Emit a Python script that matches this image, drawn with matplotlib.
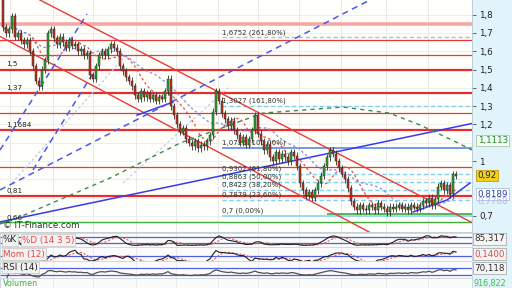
import numpy as np
import pandas as pd
import matplotlib
matplotlib.use('Agg')
import matplotlib.pyplot as plt
import matplotlib.transforms as mtrans

#=======================================================================================
# Data
#=======================================================================================

first_open = 1.88
closes = [1.73, 1.70, 1.72, 1.79, 1.68, 1.70, 1.66, 1.64, 1.66, 1.60,
          1.52, 1.44, 1.41, 1.50, 1.55, 1.70, 1.72, 1.67, 1.64, 1.68,
          1.65, 1.62, 1.66, 1.63, 1.64, 1.60, 1.61, 1.58, 1.59, 1.47,
          1.45, 1.52, 1.58, 1.60, 1.58, 1.61, 1.64, 1.62, 1.60, 1.52,
          1.49, 1.46, 1.44, 1.41, 1.36, 1.34, 1.38, 1.35, 1.37, 1.34,
          1.36, 1.33, 1.35, 1.34, 1.38, 1.45, 1.30, 1.25, 1.20, 1.16,
          1.18, 1.12, 1.10, 1.08, 1.11, 1.07, 1.09, 1.08, 1.11, 1.14,
          1.27, 1.38, 1.33, 1.26, 1.23, 1.19, 1.22, 1.17, 1.14, 1.10,
          1.13, 1.09, 1.12, 1.17, 1.25, 1.15, 1.11, 1.06, 1.09, 1.02,
          1.00, 1.05, 1.01, 1.04, 1.02, 1.00, 1.05, 1.03, 0.97, 0.88,
          0.84, 0.81, 0.83, 0.80, 0.84, 0.88, 0.92, 0.97, 1.02, 1.06,
          1.04, 1.00, 0.96, 0.93, 0.90, 0.85, 0.78, 0.75, 0.73, 0.76,
          0.74, 0.73, 0.76, 0.75, 0.73, 0.77, 0.75, 0.74, 0.72, 0.75,
          0.74, 0.75, 0.76, 0.74, 0.75, 0.73, 0.76, 0.75, 0.74, 0.76,
          0.78, 0.77, 0.80, 0.76, 0.79, 0.86, 0.88, 0.84, 0.87, 0.82,
          0.93, 0.92]

# horizontal levels
thick_red = [1.5, 1.37, 1.1684, 0.81]
thick_red_labels = ['1,5', '1,37', '1,1684', '0,81']
thin_red = [1.661, 1.578, 1.261, 0.966]
pink_level = 1.749
green_level = 0.667
green_short = 0.709

fib_levels = [1.6752, 1.3027, 1.0725, 0.9302, 0.8863, 0.8423, 0.7879, 0.7]
fib_pcts = ['261,80%', '161,80%', '100,00%', '61,80%', '50,00%', '38,20%', '23,60%', '0,00%']
fib_start = 73.0

# trend lines (bar index, price)
red_lines = [((12.3, 1.880), (156.3, 0.664)),
             ((-1.0, 1.681), (125.7, 0.580))]
blue_solid = [((-1.0, 0.667), (156.3, 1.205)),
              ((44.7, 1.251), (56.7, 1.322))]
blue_dashed = [((-1.0, 0.842), (122.3, 1.880)),
               ((-1.0, 1.060), (28.0, 1.803)),
               ((10.0, 0.951), (31.3, 1.514))]
lav_dotted = [((3.0, 0.880), (40.0, 1.560)),
              ((40.0, 0.880), (75.0, 1.400))]
end_blue_x = [136.7, 148.0, 155.7]
end_blue_y = [0.721, 0.787, 0.880]

green_curve_x = [-1.0, 3.3, 35.7, 59.0, 86.7, 113.3, 128.7, 139.0, 151.0, 156.3]
green_curve_y = [0.656, 0.678, 0.907, 1.098, 1.262, 1.295, 1.262, 1.197, 1.104, 1.060]

grid_idx = [2.3, 16.7, 30.0, 44.3, 57.7, 71.7, 85.0, 98.7, 112.7, 127.7, 141.7]

right_ticks = [0.7, 1.0, 1.2, 1.3, 1.4, 1.5, 1.6, 1.7, 1.8]

#=======================================================================================
# Derived series
#=======================================================================================

s = pd.Series(closes)
opens = [first_open] + closes[:-1]
idx = np.arange(len(closes))

lo = s.rolling(14, min_periods=1).min()
hi = s.rolling(14, min_periods=1).max()
k = (100 * (s - lo) / (hi - lo).replace(0, np.nan)).fillna(50).rolling(3, min_periods=1).mean()
d = k.rolling(5, min_periods=1).mean()
mom = (s - s.shift(12))
mom_sig = mom.rolling(5, min_periods=1).mean()
delta = s.diff()
gain = delta.clip(lower=0).ewm(alpha=1/14).mean()
loss = (-delta.clip(upper=0)).ewm(alpha=1/14).mean()
rsi = 100 - 100 / (1 + gain / loss.replace(0, np.nan))

#=======================================================================================
# Figure
#=======================================================================================

W, H = 512, 288
fig = plt.figure(figsize=(W/100, H/100), dpi=100)
fig.patch.set_facecolor('white')

def fr(x0, y0, x1, y1):
    return [x0/W, 1-y1/H, (x1-x0)/W, (y1-y0)/H]

# right scale column
bg = fig.add_axes(fr(472, 0, 512, 288))
bg.set_facecolor('#e2f4fb')
bg.set_xticks([]); bg.set_yticks([])
for sp in bg.spines.values(): sp.set_visible(False)

xlim = (-1.0, 156.33)
ax = fig.add_axes(fr(0, 0, 472, 232))
ax.set_facecolor('#fefefa')
ax.set_xlim(*xlim)
ax.set_ylim(0.612, 1.880)
for sp in ax.spines.values(): sp.set_color('#b8c8d0'); sp.set_linewidth(0.6)
ax.spines['top'].set_visible(False)
ax.spines['left'].set_visible(False)

for g in grid_idx:
    ax.axvline(g, color='#e6e6e6', lw=0.6, zorder=0)
for v in np.arange(0.7, 1.85, 0.1):
    ax.axhline(v, color='#ececec', lw=0.6, zorder=0)

# horizontal levels
ax.axhline(pink_level, color='#f4a8a8', lw=2.6, zorder=1)
for v in thin_red:
    ax.axhline(v, color='#e83838', lw=0.9, zorder=1)
for v, lab in zip(thick_red, thick_red_labels):
    ax.axhline(v, color='#e42e2e', lw=1.6, zorder=1)
    ax.text(1.0, v + 0.012, lab, fontsize=5.2, color='#202020', va='bottom', ha='left')
ax.axhline(green_level, color='#40b040', lw=1.0, zorder=1)
ax.text(1.0, green_level + 0.006, '0,66', fontsize=5.2, color='#202020', va='bottom', ha='left')
ax.hlines(green_short, 108, xlim[1], color='#2aa02a', lw=1.1, zorder=2)

# fibonacci levels
for v, pc in zip(fib_levels, fib_pcts):
    if v == 1.0725:
        ax.hlines(v, fib_start, xlim[1], color='#4f7fe0', lw=1.1, zorder=2)
    elif v == 0.7:
        ax.hlines(v, fib_start, xlim[1], color='#80d0f4', lw=1.1, zorder=2)
    else:
        ax.hlines(v, fib_start, xlim[1], color='#7fcff2', lw=1.0, linestyles=(0, (3, 2)), zorder=2)
    ax.text(fib_start, v + 0.01, ('%g' % v).replace('.', ',') + ' (' + pc + ')',
            fontsize=5.0, color='#303030', va='bottom', ha='left', zorder=3)

# trend lines
for (x0, y0), (x1, y1) in red_lines:
    ax.plot([x0, x1], [y0, y1], color='#ec3a3a', lw=1.0, zorder=2)
for (x0, y0), (x1, y1) in blue_solid:
    ax.plot([x0, x1], [y0, y1], color='#3a3ae8', lw=1.1, zorder=2)
for (x0, y0), (x1, y1) in blue_dashed:
    ax.plot([x0, x1], [y0, y1], color='#4a5ae8', lw=1.1, ls=(0, (4, 3)), zorder=2)
for (x0, y0), (x1, y1) in lav_dotted:
    ax.plot([x0, x1], [y0, y1], color='#c4c8f4', lw=0.9, ls=(0, (2, 2)), zorder=1)
ax.plot(end_blue_x, end_blue_y, color='#3a3ae8', lw=1.1, zorder=2)
ax.plot(green_curve_x, green_curve_y, color='#3c8a4c', lw=1.0, ls=(0, (3, 3)), zorder=2)

# moving averages
ax.plot(idx, s.rolling(10, min_periods=1).mean(), color='#e05050', lw=0.9, ls=(0, (2, 2)), zorder=2)
ax.plot(idx, s.rolling(20, min_periods=1).mean(), color='#8090e0', lw=0.9, ls=(0, (2, 2)), zorder=2)

# candles
o = np.array(opens); c = np.array(closes)
up = c >= o
lo_b = np.minimum(o, c); hi_b = np.maximum(o, c)
ax.vlines(idx, lo_b - 0.02, hi_b + 0.018, color='#303030', lw=0.6, zorder=3)
ax.bar(idx, np.maximum(hi_b - lo_b, 0.006), bottom=lo_b, width=0.8,
       color=np.where(up, '#2ea82e', '#c8321e'), edgecolor='#202020', lw=0.35, zorder=4)

# right price scale
ax.yaxis.tick_right()
ax.set_yticks(right_ticks)
ax.set_yticklabels([('%g' % v).replace('.', ',') for v in right_ticks])
ax.tick_params(axis='y', length=3, width=0.6, color='#505050', pad=2, labelsize=6.3, labelcolor='#202020')
ax.set_xticks([])

tr = mtrans.blended_transform_factory(ax.transAxes, ax.transData)
ax.text(1.012, 1.1113, '1,1113', transform=tr, fontsize=6.3, color='#2a8a2a', va='center',
        bbox=dict(boxstyle='square,pad=0.15', fc='#f4fbf4', ec='#a8c8a8', lw=0.6), clip_on=False)
ax.text(1.012, 0.92, '0,92', transform=tr, fontsize=6.3, color='#202020', va='center',
        bbox=dict(boxstyle='square,pad=0.15', fc='#f2d21e', ec='#c0a010', lw=0.6), clip_on=False)
ax.text(1.012, 0.8189, '0,8189', transform=tr, fontsize=6.3, color='#2a40a0', va='center',
        bbox=dict(boxstyle='square,pad=0.15', fc='#ffffff', ec='#b0c0e0', lw=0.6), clip_on=False)
ax.text(1.012, 0.7768, '0,7768', transform=tr, fontsize=6.3, color='#b4b4e4', va='center', clip_on=False)

ax.text(0.006, 0.01, '\u00a9 IT-Finance.com', transform=ax.transAxes, fontsize=6.3,
        color='#303030', va='bottom', ha='left')

#=======================================================================================
# Indicator panels
#=======================================================================================

def panel(y0, y1, ylim):
    p = fig.add_axes(fr(0, y0, 472, y1))
    p.set_facecolor('#fbfbfb')
    p.set_xlim(*xlim); p.set_ylim(*ylim)
    p.set_xticks([]); p.set_yticks([])
    for sp in p.spines.values(): sp.set_color('#c8d4dc'); sp.set_linewidth(0.6)
    for g in grid_idx:
        p.axvline(g, color='#e8e8e8', lw=0.6, zorder=0)
    return p

def box(p, x, y, txt, col, fc='#f2f2f2'):
    p.text(x, y, txt, transform=p.transAxes, fontsize=6.3, color=col, va='center', ha='left',
           bbox=dict(boxstyle='square,pad=0.12', fc=fc, ec='#c4c4c4', lw=0.5), zorder=6)

def rbox(y, txt, col, fs=6.3):
    fig.text(474/W, 1 - y/H, txt, fontsize=fs, color=col, va='center', ha='left',
             bbox=dict(boxstyle='square,pad=0.12', fc='#f4f4f4', ec='#a0a0a0', lw=0.5))

p1 = panel(233, 247, (-17, 123))
p1.axhline(80, color='#5060e0', lw=0.9)
p1.axhline(20, color='#5060e0', lw=0.9)
p1.plot(idx, d, color='#e06060', lw=0.8, ls=(0, (2, 1.5)))
p1.plot(idx, k, color='#202020', lw=0.8)
box(p1, 0.006, 0.5, '%K', '#202020')
box(p1, 0.046, 0.5, '%D (14 3 5)', '#e04848')
rbox(239, '85,317', '#303030')

p2 = panel(247, 261, (-0.2, 0.36))
p2.axhline(0, color='#5060e0', lw=0.9)
p2.plot(idx, mom_sig, color='#e06060', lw=0.8, ls=(0, (2, 1.5)))
p2.plot(idx, mom, color='#202020', lw=0.8)
box(p2, 0.006, 0.5, 'Mom (12)', '#e04848')
rbox(254, '0,1400', '#e04848')

p3 = panel(261, 278, (12, 114))
p3.axhline(70, color='#5060e0', lw=0.9)
p3.axhline(30, color='#5060e0', lw=0.9)
p3.plot(idx, rsi, color='#505050', lw=0.9)
box(p3, 0.006, 0.6, 'RSI (14)', '#202020')
rbox(268, '70,118', '#303030')

p4 = panel(278, 288, (0, 1))
p4.text(0.006, 0.45, 'Volumen', transform=p4.transAxes, fontsize=5.8, color='#40b040',
        va='center', ha='left')
fig.text(474/W, 1 - 283.5/H, '916,822', fontsize=5.8, color='#40c040', va='center', ha='left')

plt.savefig('out.png', dpi=100)
plt.close()
